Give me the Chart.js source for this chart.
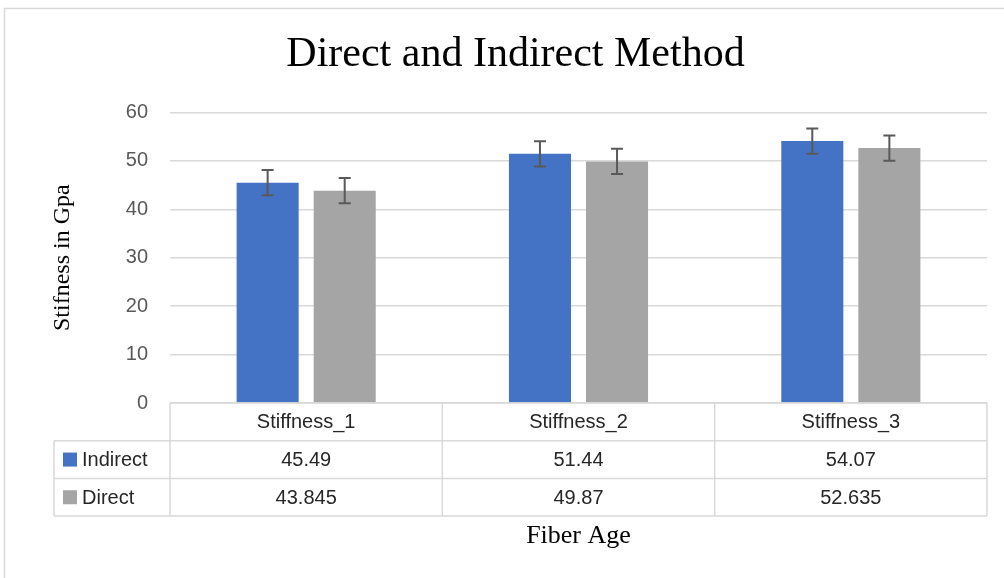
<!DOCTYPE html>
<html>
<head>
<meta charset="utf-8">
<script src="https://cdn.jsdelivr.net/npm/chart.js@4"></script>
<style>
  body { margin: 0; background: #fff; }
  canvas { display: block; }
</style>
</head>
<body>
<canvas id="myChart" width="1004" height="578"></canvas>
<script>
// values
const categories = ["Stiffness_1", "Stiffness_2", "Stiffness_3"]
const indirect = [45.49, 51.44, 54.07]
const direct = [43.845, 49.87, 52.635]
const indirectErr = [2.6, 2.6, 2.6]
const directErr = [2.6, 2.6, 2.6]
const yTicks = [0, 10, 20, 30, 40, 50, 60]

const seriesNames = ["Indirect", "Direct"]
const seriesColors = ["#4472C4", "#A5A5A5"]
const tableText = ["45.49", "51.44", "54.07", "43.845", "49.87", "52.635"]

const GRID = "#d9d9d9"
const SANS = "'Liberation Sans', Arial, sans-serif"
const SERIF = "'Liberation Serif', 'Times New Roman', serif"

// outer frame of the chart
const framePlugin = {
  id: "frame",
  beforeDraw(chart) {
    const ctx = chart.ctx
    ctx.save()
    ctx.fillStyle = "#fff"
    ctx.fillRect(0, 0, chart.width, chart.height)
    ctx.strokeStyle = GRID
    ctx.lineWidth = 1.5
    ctx.strokeRect(4.5, 8.5, 1100, 1000)
    ctx.restore()
  }
}

// error bars on top of each bar
const errorBars = {
  id: "errorBars",
  afterDatasetsDraw(chart) {
    const ctx = chart.ctx
    const y = chart.scales.y
    const errs = [indirectErr, directErr]
    ctx.save()
    ctx.strokeStyle = "#595959"
    ctx.lineWidth = 2
    chart.data.datasets.forEach(function(ds, i) {
      chart.getDatasetMeta(i).data.forEach(function(bar, j) {
        const top = y.getPixelForValue(ds.data[j] + errs[i][j])
        const bot = y.getPixelForValue(ds.data[j] - errs[i][j])
        ctx.beginPath()
        ctx.moveTo(bar.x, top); ctx.lineTo(bar.x, bot)
        ctx.moveTo(bar.x - 6, top); ctx.lineTo(bar.x + 6, top)
        ctx.moveTo(bar.x - 6, bot); ctx.lineTo(bar.x + 6, bot)
        ctx.stroke()
      })
    })
    ctx.restore()
  }
}

// data table under the plot
const dataTable = {
  id: "dataTable",
  afterDraw(chart) {
    const ctx = chart.ctx
    const area = chart.chartArea
    const x = chart.scales.x
    const rowH = 37.7
    const top = area.bottom
    const legLeft = area.left - 116
    const step = (area.right - area.left) / categories.length

    ctx.save()
    ctx.strokeStyle = GRID
    ctx.lineWidth = 1.5
    ctx.beginPath()
    // horizontal lines
    ctx.moveTo(area.left, top); ctx.lineTo(area.right, top)
    for (let r = 1; r <= 3; r++) {
      ctx.moveTo(legLeft, top + r * rowH); ctx.lineTo(area.right, top + r * rowH)
    }
    // vertical lines
    for (let c = 0; c <= categories.length; c++) {
      ctx.moveTo(area.left + c * step, top); ctx.lineTo(area.left + c * step, top + 3 * rowH)
    }
    ctx.moveTo(legLeft, top + rowH); ctx.lineTo(legLeft, top + 3 * rowH)
    ctx.stroke()

    ctx.font = "20px " + SANS
    ctx.fillStyle = "#262626"
    ctx.textBaseline = "middle"
    ctx.textAlign = "center"
    categories.forEach(function(cat, j) {
      const cx = x.getPixelForValue(j)
      ctx.fillText(cat, cx, top + rowH / 2 + 1)
      ctx.fillText(tableText[j], cx, top + rowH * 1.5 + 1)
      ctx.fillText(tableText[j + 3], cx, top + rowH * 2.5 + 1)
    })
    ctx.textAlign = "left"
    seriesNames.forEach(function(name, i) {
      const cy = top + rowH * (1.5 + i)
      ctx.fillStyle = seriesColors[i]
      ctx.fillRect(legLeft + 9, cy - 7, 14, 14)
      ctx.fillStyle = "#262626"
      ctx.fillText(name, legLeft + 28, cy + 1)
    })
    ctx.restore()
  }
}

const ctx = document.getElementById("myChart").getContext("2d")
const chart = new Chart(ctx, {
  type: "bar",
  data: {
    labels: categories,
    datasets: [
      { label: seriesNames[0], data: indirect, backgroundColor: seriesColors[0],
        barPercentage: 0.805, categoryPercentage: 0.566 },
      { label: seriesNames[1], data: direct, backgroundColor: seriesColors[1],
        barPercentage: 0.805, categoryPercentage: 0.566 }
    ]
  },
  options: {
    responsive: false,
    animation: false,
    layout: { padding: { top: 9, left: 44, right: 17, bottom: 22 } },
    plugins: {
      legend: { display: false },
      tooltip: { enabled: false },
      title: {
        display: true,
        text: "Direct and Indirect Method",
        color: "#000",
        font: { family: SERIF, size: 42, weight: "normal" },
        padding: { top: 21, bottom: 32 }
      }
    },
    scales: {
      x: {
        grid: { display: false },
        border: { display: false },
        ticks: { display: false },
        title: {
          display: true,
          text: "Fiber Age",
          color: "#000",
          font: { family: SERIF, size: 26 }
        },
        afterFit(scale) { scale.height = 153 }
      },
      y: {
        min: 0,
        max: 60,
        afterBuildTicks(scale) { scale.ticks = yTicks.map(v => ({ value: v })) },
        grid: { color: GRID, lineWidth: 1.5, drawTicks: false },
        border: { display: false },
        ticks: {
          color: "#595959",
          padding: 22,
          font: { family: SANS, size: 20 }
        },
        title: {
          display: true,
          text: "Stifness in Gpa",
          color: "#000",
          font: { family: SERIF, size: 24 }
        },
        afterFit(scale) { scale.width = 126 }
      }
    }
  },
  plugins: [framePlugin, errorBars, dataTable]
})
</script>
</body>
</html>
